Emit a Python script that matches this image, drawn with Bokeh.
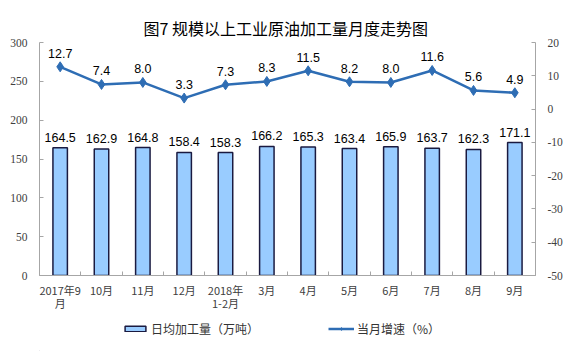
from bokeh.plotting import figure
from bokeh.layouts import column
from bokeh.models import (Range1d, LinearAxis, FixedTicker, CustomJSTickFormatter,
                          Legend, LegendItem, ColumnDataSource)
from bokeh.embed import file_html
from bokeh.resources import INLINE
from bokeh.core.properties import value

# ---- data ----
months = ["2017年9\n月", "10月", "11月", "12月", "2018年\n1-2月", "3月",
          "4月", "5月", "6月", "7月", "8月", "9月"]
volume = [164.5, 162.9, 164.8, 158.4, 158.3, 166.2, 165.3, 163.4, 165.9, 163.7, 162.3, 171.1]
growth = [12.7, 7.4, 8.0, 3.3, 7.3, 8.3, 11.5, 8.2, 8.0, 11.6, 5.6, 4.9]
left_ticks = [0, 50, 100, 150, 200, 250, 300]
right_ticks = [-50, -40, -30, -20, -10, 0, 10, 20]
title_text = "图7  规模以上工业原油加工量月度走势图"
bar_name = "日均加工量（万吨）"
line_name = "当月增速（%）"

n = len(months)
xs = [i + 0.5 for i in range(n)]
src = ColumnDataSource(dict(
    x=xs, vol=volume, gr=growth,
    vol_lbl=[f"{v:.1f}" for v in volume],
    gr_lbl=[f"{v:.1f}" for v in growth],
))

AX = "#A6A6A6"
LBL = "#404040"
BLUE = "#2E6DB4"
BAR_FILL = "#99CCFF"
BAR_EDGE = "#1A1A40"

p = figure(width=582, height=315, output_backend="svg", toolbar_location=None,
           x_range=Range1d(0, n), y_range=Range1d(left_ticks[0], left_ticks[-1]),
           min_border_left=39, min_border_right=47, min_border_top=42,
           min_border_bottom=40)
p.extra_y_ranges = {"pct": Range1d(right_ticks[0], right_ticks[-1])}
p.outline_line_color = None
p.xgrid.visible = False
p.ygrid.visible = False

p.title.text = title_text
p.title.align = "center"
p.title.text_font = "Noto Sans CJK SC"
p.title.text_font_size = "16px"
p.title.text_font_style = "normal"
p.title.text_color = "#000000"
p.title.standoff = 5

plain = CustomJSTickFormatter(code="return String(tick);")

def style_y(ax):
    ax.axis_line_color = AX
    ax.major_tick_line_color = AX
    ax.major_tick_in = 4
    ax.major_tick_out = 0
    ax.minor_tick_line_color = None
    ax.major_label_text_font = "Liberation Serif"
    ax.major_label_text_font_size = "11.5px"
    ax.major_label_text_color = LBL
    ax.major_label_standoff = 12
    ax.formatter = plain

ly = p.yaxis[0]
ly.ticker = FixedTicker(ticks=left_ticks)
style_y(ly)

ry = LinearAxis(y_range_name="pct", ticker=FixedTicker(ticks=right_ticks))
style_y(ry)
p.add_layout(ry, "right")

xa = p.xaxis[0]
xa.ticker = FixedTicker(ticks=xs, minor_ticks=list(range(n + 1)))
xa.formatter = CustomJSTickFormatter(args=dict(labels=months),
                                     code="return labels[Math.floor(tick)];")
xa.axis_line_color = AX
xa.major_tick_line_color = None
xa.minor_tick_line_color = AX
xa.minor_tick_in = 4
xa.minor_tick_out = 0
xa.major_label_text_font = "Noto Sans CJK SC"
xa.major_label_text_font_size = "11px"
xa.major_label_text_color = LBL
xa.major_label_text_line_height = 0.85
xa.major_label_standoff = 0

p.vbar(x="x", top="vol", width=0.35, source=src,
       fill_color=BAR_FILL, line_color=BAR_EDGE, line_width=1.5)
p.text(x="x", y="vol", text="vol_lbl", source=src, text_align="center",
       text_baseline="bottom", y_offset=-6, text_font=value("Liberation Sans"),
       text_font_size="12.5px", text_color="#000000")

p.line(x="x", y="gr", source=src, y_range_name="pct",
       line_color=BLUE, line_width=2.5)
p.scatter(x="x", y="gr", source=src, y_range_name="pct", marker="diamond",
          size=10, fill_color=BLUE, line_color=BLUE)
p.text(x="x", y="gr", text="gr_lbl", source=src, y_range_name="pct",
       text_align="center", text_baseline="bottom", y_offset=-9,
       text_font=value("Liberation Sans"), text_font_size="12.5px",
       text_color="#000000")

# ---- legend strip below the chart (frame aligned with the chart's frame) ----
lf = figure(width=582, height=36, output_backend="svg", toolbar_location=None,
            x_range=Range1d(0, 1), y_range=Range1d(0, 1), min_border=0)
lf.axis.visible = False
lf.grid.visible = False
lf.outline_line_color = None
# one off-screen point so that the legend glyphs get their visuals
proxy = ColumnDataSource(dict(x=[-5], y=[-5], top=[-5]))
lb = lf.vbar(x="x", top="top", width=0.3, source=proxy,
             fill_color=BAR_FILL, line_color=BAR_EDGE, line_width=1.5)
ll = lf.line(x="x", y="y", source=proxy, line_color=BLUE, line_width=2.5)
ls = lf.scatter(x="x", y="y", source=proxy, marker="diamond", size=6,
                fill_color=BLUE, line_color=BLUE)
legend = Legend(items=[LegendItem(label=bar_name, renderers=[lb]),
                       LegendItem(label=line_name, renderers=[ll, ls])],
                orientation="horizontal", location=(83, 14), spacing=69,
                padding=0, margin=0, border_line_color=None,
                background_fill_alpha=0, glyph_width=26, glyph_height=7,
                label_height=14,
                label_text_font="Noto Sans CJK SC", label_text_font_size="12px",
                label_text_color="#333333", label_standoff=3)
lf.add_layout(legend)

layout = column(p, lf, spacing=0)
open("out.html", "w").write(file_html(layout, INLINE))
